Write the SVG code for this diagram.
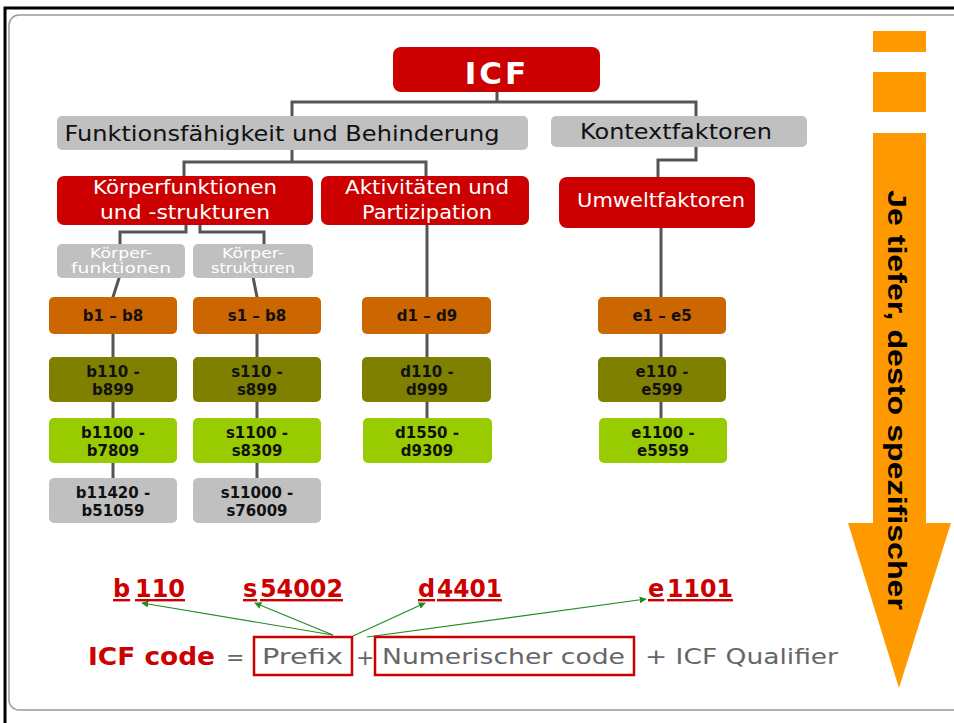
<svg xmlns="http://www.w3.org/2000/svg" width="954" height="723" viewBox="0 0 954 723">
<defs>
<style>
.red{fill:#CC0000}
.gray{fill:#C0C0C0}
.c1{fill:#CC6600}
.c2{fill:#808000}
.c3{fill:#99CC00}
.c4{fill:#C0C0C0}
.wt{font-family:"DejaVu Sans","Liberation Sans",sans-serif;fill:#fff;text-anchor:middle}
.bt{font-family:"DejaVu Sans","Liberation Sans",sans-serif;fill:#111;text-anchor:middle}
.code{font-family:"DejaVu Sans","Liberation Sans",sans-serif;font-weight:bold;font-size:15px;fill:#111;text-anchor:middle}
.conn{fill:none;stroke:#555;stroke-width:3}
.ex{font-family:"DejaVu Sans","Liberation Sans",sans-serif;font-weight:bold;font-size:24px;fill:#CC0000;text-decoration:underline}
.gr{fill:none;stroke:#228B22;stroke-width:1.2}
.fm{font-family:"DejaVu Sans","Liberation Sans",sans-serif;font-size:22px;fill:#666}
</style>
<marker id="ah" viewBox="0 0 10 10" refX="9" refY="5" markerWidth="7" markerHeight="7" orient="auto" markerUnits="userSpaceOnUse">
<path d="M0,0 L10,5 L0,10 z" fill="#228B22"/>
</marker>
</defs>
<rect x="0" y="0" width="954" height="723" fill="#fff"/>
<path d="M5,723 V8 H954" fill="none" stroke="#000" stroke-width="3"/>
<rect x="9" y="15" width="960" height="695" rx="10" fill="#fff" stroke="#999" stroke-width="1.5"/>

<g id="connectors">
<path class="conn" d="M497,92 V102 M292,116 V102 H696 V116"/>
<path class="conn" d="M292,150 V162 M184,176 V162 H426 V176"/>
<path class="conn" d="M696,147 V160 H658 V177"/>
<path class="conn" d="M186,225 V232 H120 V245"/>
<path class="conn" d="M200,225 V232 H264 V245"/>
<path class="conn" d="M121,272 L113,297 V478"/>
<path class="conn" d="M252,272 L257,297 V478"/>
<path class="conn" d="M427,225 V418"/>
<path class="conn" d="M661,228 V418"/>
<path class="gr" marker-end="url(#ah)" d="M333,635 L142,603"/>
<path class="gr" marker-end="url(#ah)" d="M333,635 L255,603"/>
<path class="gr" marker-end="url(#ah)" d="M353,636 L425,603"/>
<path class="gr" marker-end="url(#ah)" d="M367,637 L646,599"/>
</g>

<g id="icf">
<rect class="red" x="393" y="47" width="207" height="45" rx="8"/>
<text class="wt" x="497" y="84" font-size="31" font-weight="bold" letter-spacing="3">ICF</text>
</g>
<g id="funktion">
<rect class="gray" x="57" y="116" width="471" height="34" rx="5"/>
<text class="bt" x="282" y="141" font-size="21" textLength="435" lengthAdjust="spacingAndGlyphs">Funktionsfähigkeit und Behinderung</text>
</g>
<g id="kontext">
<rect class="gray" x="551" y="116" width="256" height="31" rx="5"/>
<text class="bt" x="676" y="139" font-size="21" textLength="192" lengthAdjust="spacingAndGlyphs">Kontextfaktoren</text>
</g>
<g id="koerper">
<rect class="red" x="57" y="176" width="256" height="49" rx="7"/>
<text class="wt" x="185" y="194" font-size="19" textLength="184" lengthAdjust="spacingAndGlyphs">Körperfunktionen</text>
<text class="wt" x="185" y="219" font-size="19" textLength="170" lengthAdjust="spacingAndGlyphs">und -strukturen</text>
</g>
<g id="aktiv">
<rect class="red" x="321" y="176" width="208" height="49" rx="7"/>
<text class="wt" x="427" y="194" font-size="19" textLength="164" lengthAdjust="spacingAndGlyphs">Aktivitäten und</text>
<text class="wt" x="427" y="219" font-size="19" textLength="130" lengthAdjust="spacingAndGlyphs">Partizipation</text>
</g>
<g id="umwelt">
<rect class="red" x="559" y="177" width="196" height="51" rx="8"/>
<text class="wt" x="661" y="207" font-size="19" textLength="168" lengthAdjust="spacingAndGlyphs">Umweltfaktoren</text>
</g>
<g id="kf">
<rect class="gray" x="57" y="244" width="128" height="34" rx="5"/>
<text class="wt" x="121" y="258" font-size="14" textLength="62" lengthAdjust="spacingAndGlyphs">Körper-</text>
<text class="wt" x="121" y="273" font-size="14" textLength="100" lengthAdjust="spacingAndGlyphs">funktionen</text>
</g>
<g id="ks">
<rect class="gray" x="193" y="244" width="120" height="34" rx="5"/>
<text class="wt" x="253" y="258" font-size="14" textLength="62" lengthAdjust="spacingAndGlyphs">Körper-</text>
<text class="wt" x="253" y="273" font-size="14" textLength="84" lengthAdjust="spacingAndGlyphs">strukturen</text>
</g>

<g id="b1"><rect class="c1" x="49" y="297" width="128" height="37" rx="5"/><text class="code" x="113" y="321">b1 – b8</text></g>
<g id="b2"><rect class="c2" x="49" y="357" width="128" height="45" rx="5"/><text class="code" x="113" y="377">b110 -</text><text class="code" x="113" y="395">b899</text></g>
<g id="b3"><rect class="c3" x="49" y="418" width="128" height="45" rx="5"/><text class="code" x="113" y="438">b1100 -</text><text class="code" x="113" y="456">b7809</text></g>
<g id="b4"><rect class="c4" x="49" y="478" width="128" height="45" rx="5"/><text class="code" x="113" y="498">b11420 -</text><text class="code" x="113" y="516">b51059</text></g>

<g id="s1"><rect class="c1" x="193" y="297" width="128" height="37" rx="5"/><text class="code" x="257" y="321">s1 – b8</text></g>
<g id="s2"><rect class="c2" x="193" y="357" width="128" height="45" rx="5"/><text class="code" x="257" y="377">s110 -</text><text class="code" x="257" y="395">s899</text></g>
<g id="s3"><rect class="c3" x="193" y="418" width="128" height="45" rx="5"/><text class="code" x="257" y="438">s1100 -</text><text class="code" x="257" y="456">s8309</text></g>
<g id="s4"><rect class="c4" x="193" y="478" width="128" height="45" rx="5"/><text class="code" x="257" y="498">s11000 -</text><text class="code" x="257" y="516">s76009</text></g>

<g id="d1"><rect class="c1" x="362" y="297" width="129" height="37" rx="5"/><text class="code" x="427" y="321">d1 – d9</text></g>
<g id="d2"><rect class="c2" x="362" y="357" width="129" height="45" rx="5"/><text class="code" x="427" y="377">d110 -</text><text class="code" x="427" y="395">d999</text></g>
<g id="d3"><rect class="c3" x="363" y="418" width="129" height="45" rx="5"/><text class="code" x="427" y="438">d1550 -</text><text class="code" x="427" y="456">d9309</text></g>

<g id="e1"><rect class="c1" x="598" y="297" width="128" height="37" rx="5"/><text class="code" x="662" y="321">e1 – e5</text></g>
<g id="e2"><rect class="c2" x="598" y="357" width="128" height="45" rx="5"/><text class="code" x="662" y="377">e110 -</text><text class="code" x="662" y="395">e599</text></g>
<g id="e3"><rect class="c3" x="599" y="418" width="128" height="45" rx="5"/><text class="code" x="663" y="438">e1100 -</text><text class="code" x="663" y="456">e5959</text></g>

<g id="examples">
<text class="ex" x="113" y="597">b</text><text class="ex" x="135" y="597" textLength="50" lengthAdjust="spacingAndGlyphs">110</text>
<text class="ex" x="243" y="597">s</text><text class="ex" x="260" y="597" textLength="83" lengthAdjust="spacingAndGlyphs">54002</text>
<text class="ex" x="418" y="597">d</text><text class="ex" x="437" y="597" textLength="65" lengthAdjust="spacingAndGlyphs">4401</text>
<text class="ex" x="648" y="597">e</text><text class="ex" x="667" y="597" textLength="66" lengthAdjust="spacingAndGlyphs">1101</text>
</g>

<g id="formula">
<text x="88" y="665" font-family="DejaVu Sans,Liberation Sans,sans-serif" font-weight="bold" font-size="24" fill="#CC0000" textLength="127" lengthAdjust="spacingAndGlyphs">ICF code</text>
<text class="fm" x="226" y="665">=</text>
<rect x="254" y="637" width="98" height="38" fill="none" stroke="#CC0000" stroke-width="2.5"/>
<text class="fm" x="262" y="664" textLength="81" lengthAdjust="spacingAndGlyphs">Prefix</text>
<text class="fm" x="356" y="665">+</text>
<rect x="375" y="637" width="259" height="38" fill="none" stroke="#CC0000" stroke-width="2.5"/>
<text class="fm" x="382" y="664" textLength="243" lengthAdjust="spacingAndGlyphs">Numerischer code</text>
<text class="fm" x="645" y="664" textLength="193" lengthAdjust="spacingAndGlyphs">+ ICF Qualifier</text>
</g>

<g id="depth-arrow">
<rect x="873" y="31" width="53" height="21" fill="#FF9900"/>
<rect x="873" y="72" width="53" height="40" fill="#FF9900"/>
<path d="M873,133 H926 V523 H951 L899,688 L848,523 H873 Z" fill="#FF9900"/>
<text transform="translate(888,400) rotate(90)" font-family="Liberation Sans,Arial,sans-serif" font-weight="bold" font-size="26" fill="#000" text-anchor="middle" textLength="420" lengthAdjust="spacingAndGlyphs">Je tiefer, desto spezifischer</text>
</g>
</svg>
